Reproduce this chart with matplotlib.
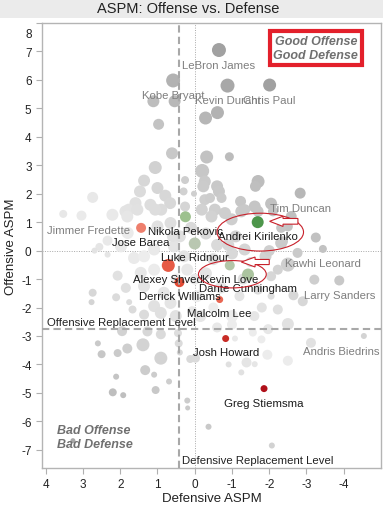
import matplotlib
matplotlib.use("Agg")
import matplotlib.pyplot as plt
import matplotlib.patches as mpatches
from matplotlib.colors import LinearSegmentedColormap, TwoSlopeNorm, Normalize
from matplotlib.transforms import ScaledTranslation

plt.rcParams["font.family"] = ["Liberation Sans", "DejaVu Sans"]

# League players without label (defensive ASPM, offensive ASPM, minutes)
league_def = [0.54, 1.11, -0.61, -0.29, 0.97, 0.61, -0.32, -0.93, 1.06, -0.20,
              1.36, 0.26, -0.27, -1.70, -1.63, -0.60, -0.23, 1.00, 1.47, 0.30,
              -0.65, 0.02, 2.74, 0.79, -1.23, -2.05, -0.27, -0.41, -0.72, 1.59,
              1.19, 0.66, 1.86, 0.90, 3.53, 2.21, -0.54, -0.81, -1.25, -1.70,
              -1.61, -1.34, -2.10, -2.59, -0.99, -0.45, -0.19, 0.26, 1.77, 1.06,
              1.54, 1.81, 0.65, 1.00, 1.80, -3.25, -2.32, -2.50, -2.32, -2.37,
              -2.76, -1.34, 0.56, 1.09, 2.34, 2.56, 2.69, 2.34, 1.98, 1.63,
              1.36, 0.29, 1.09, 1.45, 0.20, 2.07, 1.85, 1.36, 0.83, 0.65,
              -0.06, 2.74, 2.77, 2.11, 1.76, 1.67, 1.09, 1.36, 0.07, 0.91,
              0.51, -0.15, -2.50, -2.23, -2.05, -3.21, -1.70, -2.05, -2.65, -2.90,
              -2.23, -1.00, -0.50, -0.30, -1.10, 0.10, -0.70, -1.20, -1.00, -0.50,
              -1.60, -1.90, -1.50, 0.40, -0.60, 1.95, 1.27, 0.91, 0.45, 2.60,
              2.50, 2.07, 1.81, 1.39, 0.91, 1.33, 1.09, 2.11, 0.69, 2.20,
              1.92, 1.05, 0.43, 0.40, 0.20, 0.19, -0.37, 0.12, -0.02, 3.27,
              -1.08, -0.91, -1.39, -1.61, -1.25, -1.95, -2.50, -2.07, -1.56, -2.50,
              -1.97, -3.12, -1.79, -0.60, -1.00, -0.30, -1.30, -2.00, -0.90, 0.50,
              -1.80, 0.00, 0.60]
league_off = [5.25, 5.25, 4.85, 4.66, 4.44, 3.42, 3.29, 3.30, 2.92, 2.80,
              2.46, 2.48, 2.43, 2.43, 2.26, 2.26, 2.26, 2.20, 2.08, 2.08,
              2.08, 2.00, 1.87, 1.93, 1.73, 1.65, 1.79, 1.85, 1.85, 1.67,
              1.61, 1.67, 1.38, 1.44, 1.29, 1.26, 1.44, 1.32, 1.38, 1.38,
              1.55, 1.44, 1.38, 1.20, 1.10, 1.20, 1.44, 1.55, 1.44, 1.44,
              1.44, 1.20, 0.97, 0.85, 0.62, 0.46, 0.27, 0.85, 0.80, 0.33,
              -0.08, 0.04, 0.15, 0.04, 0.35, 0.13, 0.00, -0.14, 0.15, -0.26,
              -0.20, -0.20, -0.67, -0.78, -0.67, -0.88, -1.31, -1.25, -1.48, -1.84,
              -1.60, -1.48, -1.81, -1.64, -1.81, -2.07, -1.95, -2.25, -2.13, -2.19,
              -2.30, -2.30, -0.49, -0.67, -0.90, -1.02, -1.37, -1.60, -1.57, -1.78,
              -2.07, -0.10, -0.30, 0.60, 0.50, 0.80, -1.30, -1.60, -2.30, -2.00,
              -2.30, -0.20, -0.40, 0.50, 0.20, -2.83, -2.84, -2.94, -2.90, -3.26,
              -3.64, -3.60, -3.44, -3.31, -3.78, -4.20, -4.36, -4.43, -4.60, -4.98,
              -5.08, -4.90, -3.26, -3.58, -5.27, -5.53, -6.19, -3.81, -3.78, -6.68,
              -3.09, -4.00, -3.93, -3.99, -4.28, -3.66, -3.87, -6.85, -2.88, -2.58,
              -2.76, -3.24, -3.12, -2.70, -2.60, -0.80, -1.00, 0.00, 0.20, -1.00,
              -2.00, -1.00, 0.50]
league_min = [2230, 2230, 2620, 2620, 1875, 2230, 2620, 1255, 2620, 3040,
              2230, 990, 2230, 2620, 1875, 2230, 2230, 2230, 2230, 990,
              2230, 560, 1875, 2230, 1875, 2230, 1875, 1550, 1550, 2230,
              2230, 2230, 2230, 2230, 990, 2230, 2230, 2230, 2230, 1875,
              2230, 1875, 1550, 1875, 2230, 2230, 2230, 1550, 2230, 2230,
              2230, 2230, 2230, 2230, 2230, 1550, 2230, 1550, 1550, 1550,
              1550, 2230, 2230, 2230, 1550, 990, 560, 560, 2230, 2230,
              2230, 2230, 2230, 2230, 2230, 1550, 1550, 2230, 2230, 2230,
              2230, 990, 560, 990, 560, 990, 2230, 1550, 1550, 2230,
              2230, 2230, 3040, 1550, 1550, 1550, 1550, 760, 1550, 1550,
              1550, 2230, 2230, 2230, 2230, 2230, 2230, 1550, 2230, 1550,
              1550, 2230, 1550, 2230, 2230, 1550, 1550, 1550, 990, 560,
              990, 990, 1550, 2620, 2620, 1550, 560, 560, 560, 990,
              560, 990, 990, 560, 560, 390, 560, 990, 1255, 390,
              560, 560, 1550, 560, 560, 1550, 1550, 560, 990, 2230,
              1550, 1550, 990, 1550, 1550, 2230, 1875, 1875, 2230, 1875,
              1550, 1875, 1875]

# Labelled league players
star_names = ["LeBron James", "Kobe Bryant", "Kevin Durant", "Chris Paul", "Tim Duncan",
              "Jimmer Fredette", "Kawhi Leonard", "Larry Sanders", "Andris Biedrins"]
star_def = [-0.65, 0.58, -0.88, -2.01, -2.83, 3.04, -3.44, -3.88, -4.54]
star_off = [7.05, 5.98, 5.80, 5.82, 2.02, 1.23, 0.06, -1.05, -3.00]
star_min = [3040, 3040, 3040, 2620, 1875, 1550, 990, 1550, 560]

# Timberwolves players
wolves_names = ["Nikola Pekovic", "Jose Barea", "Andrei Kirilenko", "Luke Ridnour",
                "Alexey Shved", "Derrick Williams", "Kevin Love", "Dante Cunningham",
                "Malcolm Lee", "Josh Howard", "Greg Stiemsma"]
wolves_def = [0.25, 1.44, -1.69, 0.00, 0.71, 0.41, -0.94, -1.43, -0.67, -0.83, -1.86]
wolves_off = [1.19, 0.80, 1.00, 0.25, -0.52, -1.11, -0.52, -0.84, -1.72, -3.09, -4.85]
wolves_min = [1875, 1550, 2230, 2230, 2620, 1550, 1550, 2230, 760, 760, 760]

x_ticks = [4, 3, 2, 1, 0, -1, -2, -3, -4]
y_ticks = [8, 7, 6, 5, 4, 3, 2, 1, 0, -1, -2, -3, -4, -5, -6, -7]
def_replacement = 0.43
off_replacement = -2.77

gray_cmap = LinearSegmentedColormap.from_list("grays", ["#a3a3a3", "#ededed", "#a1a1a1"])
gray_norm = TwoSlopeNorm(vcenter=-1.5, vmin=-10.5, vmax=7.5)
wolves_cmap = LinearSegmentedColormap.from_list(
    "wolves", [(0.0, "#b0101a"), (0.25, "#e24a33"), (0.4, "#ef8270"),
               (0.5, "#c3c9bd"), (0.65, "#9fc290"), (1.0, "#3f8f3f")])
wolves_norm = Normalize(-3, 3)


# total ASPM = offense - defense (defense axis is flipped)
def total(d, o):
    return [oo - dd for dd, oo in zip(d, o)]


def size(mins):
    return [m / 30 for m in mins]


fig = plt.figure(figsize=(3.83, 5.06), dpi=100)
fig.patches.append(mpatches.Rectangle((0, 1 - 19 / 506), 1, 19 / 506, transform=fig.transFigure,
                                      facecolor="#ebebeb", edgecolor="none", zorder=0))
fig.text(0.492, 1 - 9 / 506, "ASPM: Offense vs. Defense", ha="center", va="center",
         fontsize=10.5, color="#222222")

ax = fig.add_axes([42 / 383, 37 / 506, 339 / 383, 445 / 506])
ax.set_xlim(4.1, -5.0)
ax.set_ylim(-7.64, 7.96)

# zero lines and replacement levels
ax.axvline(0, color="#a8a8a8", lw=0.7, ls=(0, (1, 1.5)), zorder=1)
ax.axhline(0, color="#a8a8a8", lw=0.7, ls=(0, (1, 1.5)), zorder=1)
ax.axvline(def_replacement, color="#a8a8a8", lw=1.5, ls=(0, (3.5, 2)), zorder=5)
ax.axhline(off_replacement, color="#a8a8a8", lw=1.5, ls=(0, (3.5, 2)), zorder=5)

ax.scatter(league_def, league_off, s=size(league_min), c=total(league_def, league_off),
           cmap=gray_cmap, norm=gray_norm, linewidths=0, zorder=2)
ax.scatter(star_def, star_off, s=size(star_min), c=total(star_def, star_off),
           cmap=gray_cmap, norm=gray_norm, linewidths=0, zorder=2)
ax.scatter(wolves_def, wolves_off, s=size(wolves_min), c=total(wolves_def, wolves_off),
           cmap=wolves_cmap, norm=wolves_norm, linewidths=0, zorder=3)

# labels under the points
shift = {"Jimmer Fredette": 5, "Andris Biedrins": -16}
for n, x, y in zip(star_names, star_def, star_off):
    ax.annotate(n, (x, y), xytext=(shift.get(n, 0), -10.5), textcoords="offset points",
                ha="center", va="center", fontsize=8.2, color="#7f7f7f", zorder=6)
for n, x, y in zip(wolves_names, wolves_def, wolves_off):
    ax.annotate(n, (x, y), xytext=(0, -10), textcoords="offset points",
                ha="center", va="center", fontsize=8.2, color="#1a1a1a", zorder=6)

ax.text(3.97, off_replacement + 0.1, "Offensive Replacement Level", ha="left", va="bottom",
        fontsize=8.2, color="#222222", zorder=6)
ax.text(def_replacement - 0.1, -7.36, "Defensive Replacement Level", ha="left", va="center",
        fontsize=8.2, color="#222222", zorder=6)

ax.text(-3.25, 7.12, "Good Offense\nGood Defense", ha="center", va="center", fontsize=9,
        style="italic", fontweight="bold", color="#707070", linespacing=1.2, zorder=7,
        bbox=dict(boxstyle="square,pad=0.3", facecolor="white", edgecolor="#e3202b", lw=3))
ax.text(3.7, -6.55, "Bad Offense\nBad Defense", ha="left", va="center", fontsize=9,
        style="italic", fontweight="bold", color="#707070", linespacing=1.2, zorder=7)

# hand drawn marks
red = "#c8202a"
ax.add_patch(mpatches.Ellipse((-1.76, 0.65), 2.32, 1.33, fill=False, edgecolor=red, lw=0.8, zorder=7))
ax.add_patch(mpatches.Ellipse((-1.01, -0.83), 1.82, 0.96, fill=False, edgecolor=red, lw=0.8, zorder=7))
ax.add_patch(mpatches.FancyArrow(-2.77, 1.03, 0.76, 0, width=0.2, head_width=0.36, head_length=0.36,
                                 length_includes_head=True, facecolor="white", edgecolor=red,
                                 lw=0.8, zorder=7))
ax.add_patch(mpatches.FancyArrow(-2.0, -0.40, 0.75, 0, width=0.18, head_width=0.35, head_length=0.37,
                                 length_includes_head=True, facecolor="white", edgecolor=red,
                                 lw=0.8, zorder=7))

ax.set_xticks(x_ticks)
ax.set_xticklabels([str(t) for t in x_ticks])
ax.set_yticks(y_ticks)
ax.set_yticklabels([str(t) for t in y_ticks])
ax.tick_params(colors="#b0b0b0", labelcolor="#222222", labelsize=8.5, length=4, width=0.8)
# "8" is nudged down like in the original
lab8 = ax.get_yticklabels()[0]
lab8.set_transform(lab8.get_transform() + ScaledTranslation(0, -7 / 72, fig.dpi_scale_trans))

for sp in ax.spines.values():
    sp.set_color("#b4b4b4")
    sp.set_linewidth(1)

ax.set_xlabel("Defensive ASPM", fontsize=9.5, color="#222222", labelpad=1)
ax.set_ylabel("Offensive ASPM", fontsize=9.5, color="#222222", labelpad=3)

fig.savefig("out.png", dpi=100)
